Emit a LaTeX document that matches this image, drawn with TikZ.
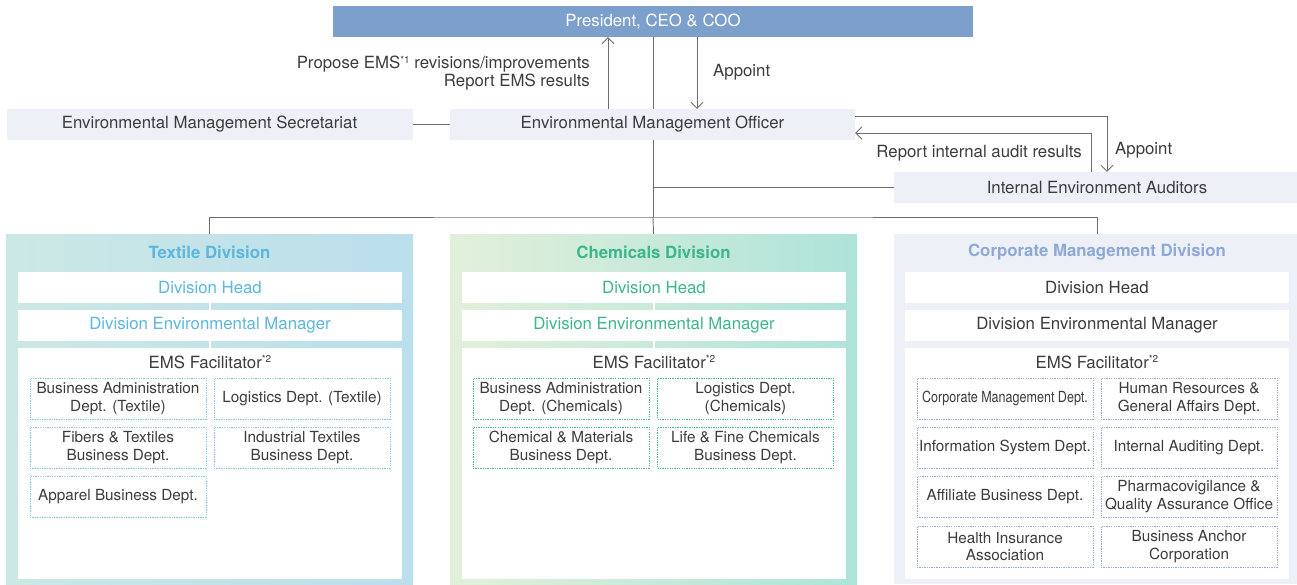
\documentclass[tikz,border=0pt]{standalone}
\usepackage{fontspec}
\setmainfont{TeX Gyre Heros}
\usetikzlibrary{arrows.meta}

\definecolor{presblue}{HTML}{7C9FCC}
\definecolor{boxgray}{HTML}{EDF0F7}
\definecolor{linegray}{HTML}{6E6E6E}
\definecolor{txtdark}{HTML}{3C3C3C}
\definecolor{texblue}{HTML}{5CB6DD}
\definecolor{texL}{HTML}{CCE8E5}
\definecolor{texR}{HTML}{BADEEC}
\definecolor{texdot}{HTML}{7CC8E6}
\definecolor{chemgreen}{HTML}{3BB78A}
\definecolor{chemL}{HTML}{E2F0DA}
\definecolor{chemR}{HTML}{AEE3DA}
\definecolor{chemdot}{HTML}{45B88F}
\definecolor{corpblue}{HTML}{8EA9D8}

\newcommand{\notemark}[1]{\raisebox{0.6ex}{\fontsize{10}{10}\selectfont #1}}

\tikzset{
  basefont/.style={font=\fontsize{16.8}{18}\selectfont},
  presbox/.style={basefont, fill=presblue, text=white, minimum width=640pt, minimum height=31pt, inner sep=0pt},
  graybox/.style={basefont, fill=boxgray, text=txtdark, minimum height=31pt, inner sep=0pt},
  lbl/.style={basefont, text=txtdark, inner sep=0pt},
  conn/.style={draw=linegray, line width=0.9pt},
  divbox/.style={minimum width=407pt, minimum height=350pt, inner sep=0pt},
  divtitle/.style={font=\fontsize{16.8}{18}\selectfont\bfseries, inner sep=0pt},
  whitebox/.style={basefont, fill=white, text=txtdark, minimum width=384pt, minimum height=31pt, inner sep=0pt},
  sepline/.style={draw=white, line width=1.2pt},
  deptbox/.style={font=\fontsize{15.3}{17.5}\selectfont, text=txtdark, align=center,
    minimum width=176pt, minimum height=41pt, inner sep=0pt, line width=0.8pt,
    dash pattern=on 1.3pt off 1.1pt},
}

\begin{document}
\begin{tikzpicture}[x=1pt, y=-1pt, >={Straight Barb[length=6pt,width=12pt]}]
    \useasboundingbox (0,0) rectangle (1297,584);

    % Top level
    \node[presbox] (pres) at (653,21.5) {President, CEO \& COO};
    \node[graybox, minimum width=405pt] (officer) at (652.5,124.5) {Environmental Management Officer};
    \node[graybox, minimum width=406pt] (secr) at (209.5,124.5) {Environmental Management Secretariat};
    \node[graybox, minimum width=406pt] (audit) at (1097,187.5) {Internal Environment Auditors};
    \coordinate (hub) at (653,217);
    \coordinate (auditjoin) at (hub |- audit.west);

    % Connectors between the top boxes
    \draw[conn] (secr) -- (officer);
    \draw[conn] (pres.south) -- (pres.south |- officer.north);
    \draw[conn,->] ([xshift=-44.5pt]officer.north) -- ([xshift=-44.5pt]officer.north |- pres.south);
    \draw[conn,->] ([xshift=44.5pt]officer.north |- pres.south) -- ([xshift=44.5pt]officer.north);
    \draw[conn] (officer.south -| hub) -- (hub);
    \draw[conn] (auditjoin) -- (audit.west);
    \draw[conn,->] ([yshift=8.5pt]officer.east) -| ([xshift=10pt]audit.north);
    \draw[conn,<-] ([yshift=-8.5pt]officer.east) -| ([xshift=-6pt]audit.north);

    % Labels on the arrows
    \node[lbl, anchor=east, align=right] (proposelbl) at (590,73) {Propose EMS\notemark{*1} revisions/improvements\\Report EMS results};
    \node[lbl, anchor=west] (appointlbl) at (713,72) {Appoint};
    \node[lbl, anchor=east] (reportlbl) at (1082,153) {Report internal audit results};
    \node[lbl, anchor=west] (auditappointlbl) at (1115,150) {Appoint};

    % Divisions
    \node[divbox, left color=texL, right color=texR] (textile) at (209.5,409) {};
    \node[divbox, left color=chemL, right color=chemR] (chem) at (653.5,409) {};
    \node[divbox, fill=boxgray] (corp) at (1097,409) {};
    \draw[conn] (textile.north) |- (hub) -| (corp.north);
    \draw[conn] (hub) -- (chem.north);

    % Textile Division
    \node[divtitle, text=texblue] (textitle) at (209.5,252) {Textile Division};
    \node[whitebox, text=texblue] (texhead) at (210,287.5) {Division Head};
    \node[whitebox, text=texblue] (texmgr) at (210,325.5) {Division Environmental Manager};
    \node[whitebox, minimum height=231pt] (texems) at (210,463.5) {};
    \node[lbl] (texemslbl) at (210,362) {EMS Facilitator\notemark{*2}};
    \draw[sepline] (texhead) -- (texmgr);
    \draw[sepline] (texmgr) -- (texems);
    \foreach \c/\r/\t [count=\i] in {118/398.5/{Business Administration\\Dept. (Textile)},
        302/398.5/{Logistics Dept. (Textile)},
        118/447.5/{Fibers \& Textiles\\Business Dept.},
        302/447.5/{Industrial Textiles\\Business Dept.},
        118/496.5/{Apparel Business Dept.}}
      \node[deptbox, draw=texdot] (texdept\i) at (\c,\r) {\t};

    % Chemicals Division
    \node[divtitle, text=chemgreen] (chemtitle) at (653.5,252) {Chemicals Division};
    \node[whitebox, text=chemgreen] (chemhead) at (654,287.5) {Division Head};
    \node[whitebox, text=chemgreen] (chemmgr) at (654,325.5) {Division Environmental Manager};
    \node[whitebox, minimum height=231pt] (chemems) at (654,463.5) {};
    \node[lbl] (chememslbl) at (654,362) {EMS Facilitator\notemark{*2}};
    \draw[sepline] (chemhead) -- (chemmgr);
    \draw[sepline] (chemmgr) -- (chemems);
    \foreach \c/\r/\t [count=\i] in {561/398.5/{Business Administration\\Dept. (Chemicals)},
        745.5/398.5/{Logistics Dept.\\(Chemicals)},
        561/447.5/{Chemical \& Materials\\Business Dept.},
        745.5/447.5/{Life \& Fine Chemicals\\Business Dept.}}
      \node[deptbox, draw=chemdot] (chemdept\i) at (\c,\r) {\t};

    % Corporate Management Division
    \node[divtitle, text=corpblue] (corptitle) at (1097,252) {Corporate Management Division};
    \node[whitebox] (corphead) at (1097,287.5) {Division Head};
    \node[whitebox] (corpmgr) at (1097,325.5) {Division Environmental Manager};
    \node[whitebox, minimum height=231pt] (corpems) at (1097,463.5) {};
    \node[lbl] (corpemslbl) at (1097,362) {EMS Facilitator\notemark{*2}};
    \draw[sepline, draw=boxgray] (corphead) -- (corpmgr);
    \draw[sepline, draw=boxgray] (corpmgr) -- (corpems);
    \foreach \c/\r/\t [count=\i] in {1005/398.5/{\scalebox{0.82}[1]{Corporate Management Dept.}},
        1189/398.5/{Human Resources \&\\General Affairs Dept.},
        1005/447.5/{Information System Dept.},
        1189/447.5/{Internal Auditing Dept.},
        1005/496.5/{Affiliate Business Dept.},
        1189/496.5/{Pharmacovigilance \&\\Quality Assurance Office},
        1005/546.5/{Health Insurance\\Association},
        1189/546.5/{Business Anchor\\Corporation}}
      \node[deptbox, draw=corpblue] (corpdept\i) at (\c,\r) {\t};
\end{tikzpicture}
\end{document}
